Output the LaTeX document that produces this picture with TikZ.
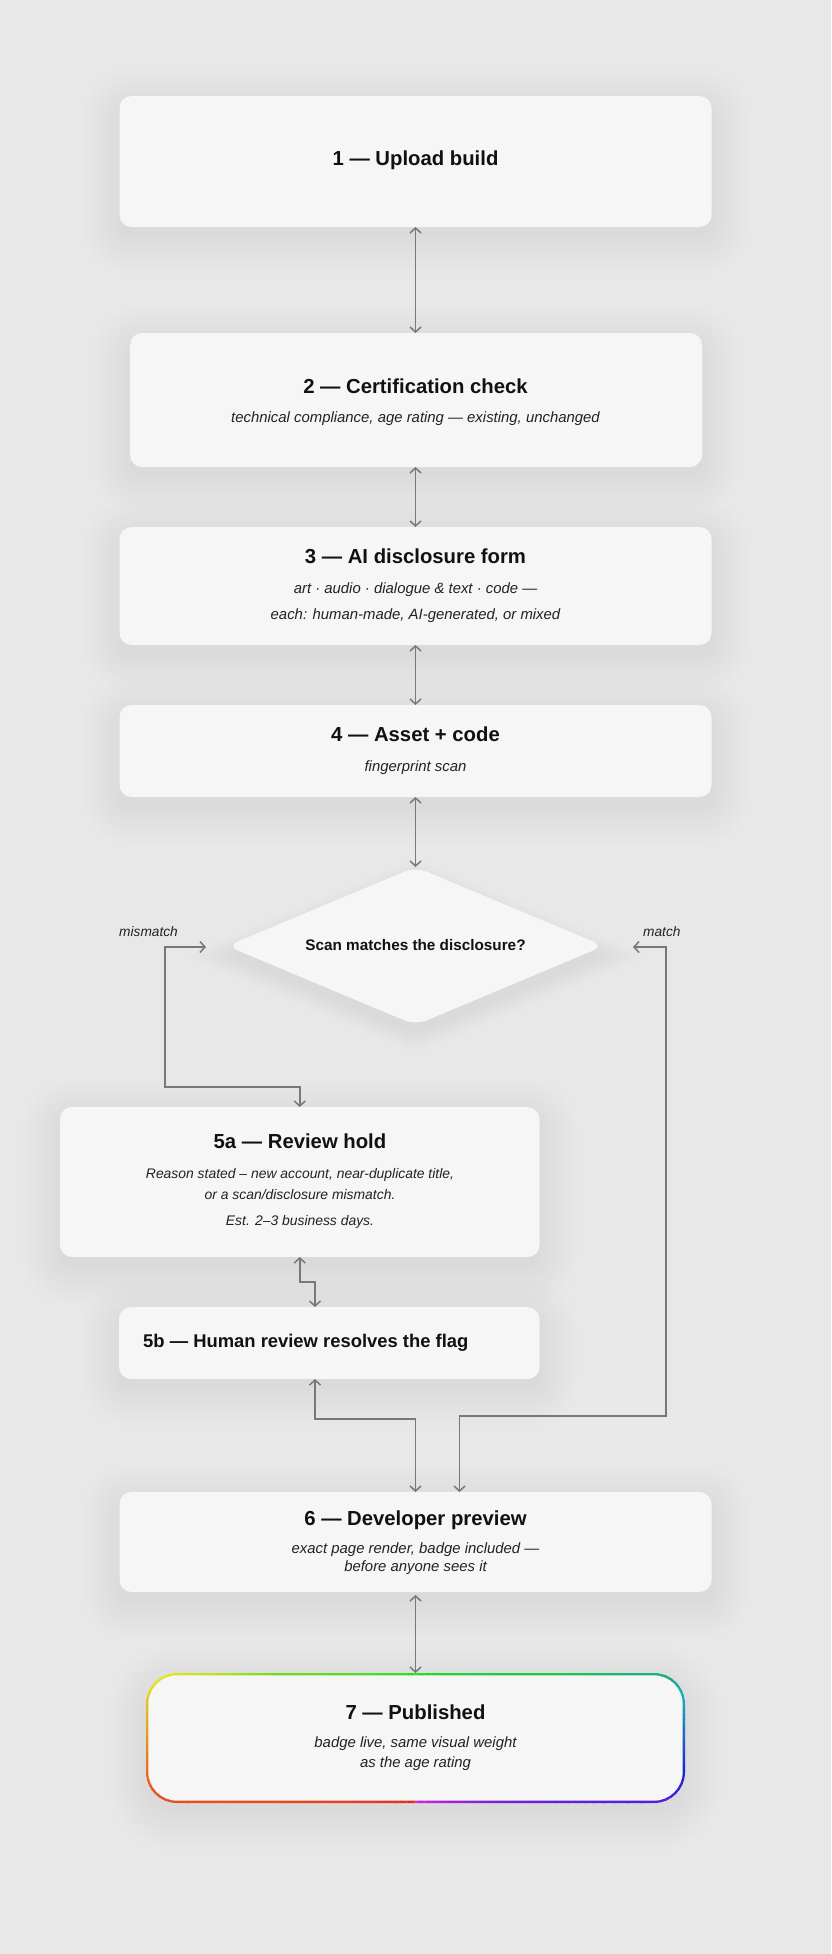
\documentclass[tikz,border=0pt]{standalone}
\usepackage{fontspec}
\setmainfont{Liberation Sans}
\usetikzlibrary{arrows.meta,shapes.geometric,calc}
\definecolor{bg}{HTML}{E8E8E8}
\definecolor{boxfill}{HTML}{F6F6F6}
\definecolor{linegray}{HTML}{787878}
\definecolor{titlecol}{HTML}{111111}
\definecolor{subcol}{HTML}{222222}
\tikzset{
  card/.style={rectangle, rounded corners=12pt, fill=boxfill, draw=none, inner sep=0pt, outer sep=0pt},
  ttl/.style={inner sep=0pt, text height=0.72em, text depth=0pt, text=titlecol, font=\fontsize{20.3}{24}\selectfont\bfseries},
  sub/.style={inner sep=0pt, text height=0.72em, text depth=0pt, text=subcol, font=\fontsize{14.9}{18}\selectfont\itshape},
  subsm/.style={sub, font=\fontsize{13.9}{17}\selectfont\itshape},
  lbl/.style={inner sep=0pt, text height=0.72em, text depth=0pt, text=subcol, font=\fontsize{13.7}{16}\selectfont\itshape},
  conn/.style={draw=linegray, line width=1.5pt, {Straight Barb[length=5pt,width=11pt]}-{Straight Barb[length=5pt,width=11pt]}},
  shadelayer/.style={fill=black, fill opacity=0.0045, draw=none},
}
% soft shadow for a rectangular card: #1 centre, #2 width, #3 height, #4 radius
\newcommand{\mycardshadow}[4]{%
  \foreach \i in {-2,1,...,37} {
    \pgfmathsetmacro{\rr}{max(#4+\i,2)}
    \fill[shadelayer, rounded corners=\rr pt]
      ($(#1)+(-#2/2-\i,-#3/2-\i+10)$) rectangle ($(#1)+(#2/2+\i,#3/2+\i+10)$);
  }%
}
\begin{document}
\begin{tikzpicture}[x=1pt,y=-1pt]
\useasboundingbox (0,0) rectangle (831,1954);
\fill[bg] (0,0) rectangle (831,1954);

% shadows
\mycardshadow{415.5,161.5}{592}{131}{12}
\mycardshadow{416,400}{572}{134}{12}
\mycardshadow{415.5,586}{592}{118}{12}
\mycardshadow{415.5,751}{592}{92}{12}
\foreach \i in {-2,1,...,37} {
  \node[diamond, shadelayer, inner sep=0pt, rounded corners=12pt, minimum width=377pt+2.4*\i pt, minimum height=158pt+\i pt] at (415.5,956) {};
}
\mycardshadow{299.75,1182}{479.5}{150}{12}
\mycardshadow{329.25,1343}{420.5}{72}{12}
\mycardshadow{415.5,1542}{592}{100}{12}
\mycardshadow{415.5,1738}{539}{130}{31}

% cards
\node[card, minimum width=592pt, minimum height=131pt] (b1) at (415.5,161.5) {};
\node[card, minimum width=572pt, minimum height=134pt] (b2) at (416,400) {};
\node[card, minimum width=592pt, minimum height=118pt] (b3) at (415.5,586) {};
\node[card, minimum width=592pt, minimum height=92pt] (b4) at (415.5,751) {};
\node[diamond, fill=boxfill, draw=none, inner sep=0pt, outer sep=0pt, rounded corners=12pt, minimum width=377pt, minimum height=158pt] (dia) at (415.5,946) {};
\node[card, minimum width=479.5pt, minimum height=150pt] (b5a) at (299.75,1182) {};
\node[card, minimum width=420.5pt, minimum height=72pt] (b5b) at (329.25,1343) {};
\node[card, minimum width=592pt, minimum height=100pt] (b6) at (415.5,1542) {};
\node[card, rounded corners=31pt, minimum width=539pt, minimum height=130pt] (b7) at (415.5,1738) {};

% gradient border of card 7
\begin{scope}
\clip[rounded corners=31pt] (b7.north west) rectangle (b7.south east);
\foreach \ta/\tb/\ha/\hb/\ba/\bb in {0/77/2/14/0.88/0.9, 77/104/14/62/0.9/0.9, 104/114/62/95/0.9/0.86, 114/180/95/120/0.86/0.86, 180/246/120/135/0.86/0.78, 246/257/135/168/0.78/0.66, 257/270/168/220/0.66/0.82, 270/283/220/255/0.82/0.85, 283/360/255/298/0.85/0.85} {
  \pgfmathtruncatemacro{\tc}{\tb-1}
  \foreach \t in {\ta,...,\tc} {
    \pgfmathsetmacro{\h}{\ha+(\t-\ta)*(\hb-\ha)/(\tb-\ta)}
    \pgfmathsetmacro{\bv}{\ba+(\t-\ta)*(\bb-\ba)/(\tb-\ta)}
    \definecolor{wc}{Hsb}{\h,0.85,\bv}
    \pgfmathsetmacro{\angA}{90+\t-0.1}
    \pgfmathsetmacro{\angB}{90+\t+1.1}
    \fill[wc] (b7.center) -- +(\angA:400) -- +(\angB:400) -- cycle;
  }
}
\end{scope}
\fill[boxfill, rounded corners=29pt] ($(b7.north west)+(2.3,2.3)$) rectangle ($(b7.south east)+(-2.3,-2.3)$);

% texts
\node[ttl] (t1) at (415.5,162) {1 — Upload build};
\node[ttl] (t2) at (415.5,390) {2 — Certification check};
\node[sub] (s2) at (415.5,419) {technical compliance, age rating — existing, unchanged};
\node[ttl] (t3) at (415.5,560) {3 — AI disclosure form};
\node[sub] (s3a) at (415.5,590) {art · audio · dialogue \& text · code —};
\node[sub] (s3b) at (415.5,616) {each: human-made, AI-generated, or mixed};
\node[ttl] (t4) at (415.5,738) {4 — Asset + code};
\node[sub] (s4) at (415.5,768) {fingerprint scan};
\node[inner sep=0pt, text height=0.72em, text depth=0pt, text=titlecol, font=\fontsize{15.3}{18}\selectfont\bfseries] (td) at (415.5,946.5) {Scan matches the disclosure?};
\node[lbl, anchor=west] (lmis) at (119,933) {mismatch};
\node[lbl, anchor=west] (lmat) at (643,933) {match};
\node[ttl] (t5a) at (300,1145) {5a — Review hold};
\node[subsm] (s5a1) at (300,1175) {Reason stated – new account, near-duplicate title,};
\node[subsm] (s5a2) at (300,1196) {or a scan/disclosure mismatch.};
\node[subsm] (s5a3) at (300,1222) {Est. 2–3 business days.};
\node[ttl, anchor=west, font=\fontsize{18.4}{22}\selectfont\bfseries] (t5b) at (143,1344) {5b — Human review resolves the flag};
\node[ttl] (t6) at (415.5,1522) {6 — Developer preview};
\node[sub] (s6a) at (415.5,1550) {exact page render, badge included —};
\node[sub] (s6b) at (415.5,1568) {before anyone sees it};
\node[ttl] (t7) at (415.5,1716) {7 — Published};
\node[sub] (s7a) at (415.5,1744) {badge live, same visual weight};
\node[sub] (s7b) at (415.5,1764) {as the age rating};

% connectors
\coordinate (mmA) at (206,947);
\coordinate (mmB) at (165,1087);
\coordinate (mA) at (633,947);
\coordinate (mB) at (666,1416);
\draw[conn] (b1.south) -- (b1.south |- b2.north);
\draw[conn] (b2.south -| b1.south) -- (b1.south |- b3.north);
\draw[conn] (b3.south) -- (b3.south |- b4.north);
\draw[conn] (b4.south) -- (dia.north);
\draw[conn] (mmA) -| (mmB) -| (b5a.north);
\draw[conn] (mA) -| (mB) -| ($(b6.north)+(44,0)$);
\draw[conn] (b5a.south) -- ++(0,25) -| ($(b5b.north west)+(196,0)$);
\draw[conn] ($(b5b.south west)+(196,0)$) -- ++(0,40) -| (b6.north);
\draw[conn] ($(b6.south)+(0,3)$) -- (b7.north);
\end{tikzpicture}
\end{document}
